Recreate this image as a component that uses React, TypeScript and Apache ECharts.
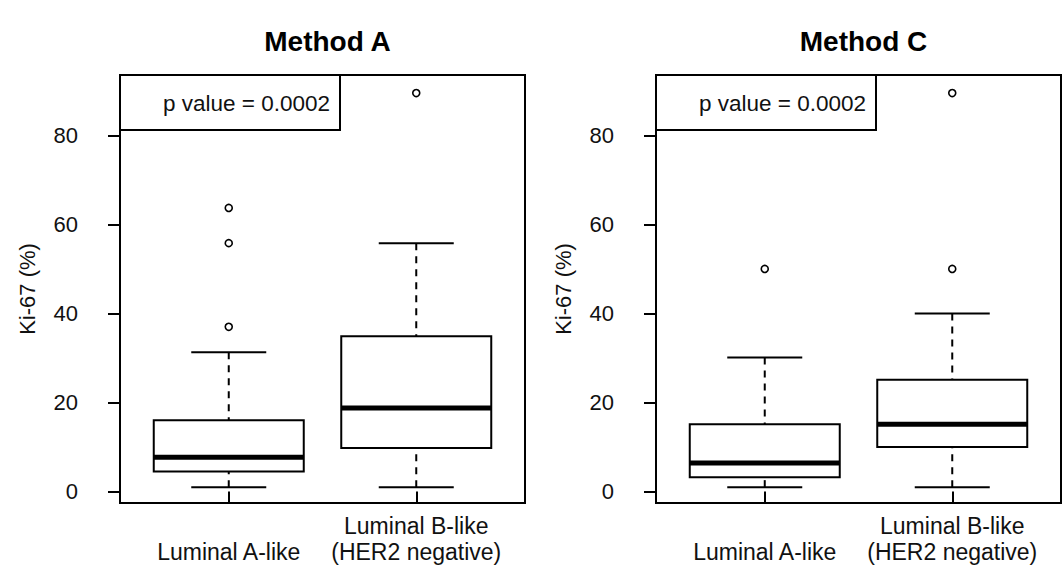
import React, { useEffect, useRef } from "react";
import * as echarts from "echarts";

const categories = ["Luminal A-like", "Luminal B-like\n(HER2 negative)"];
const panelTitles = ["Method A", "Method C"];
const yTicks = [0, 20, 40, 60, 80];
const xTicks = [1, 2];
const pValueTexts = ["p value = 0.0002", "p value = 0.0002"];
const yAxisName = "Ki-67 (%)";

// each box: [position, lower whisker, Q1, median, Q3, upper whisker]
const methodABoxes = [
  [1, 1, 4.5, 7.7, 16, 31.3],
  [2, 1, 9.8, 18.8, 34.9, 55.8],
];
const methodAOutliers = [
  [1, 37],
  [1, 55.8],
  [1, 63.7],
  [2, 89.5],
];
const methodCBoxes = [
  [1, 1, 3.2, 6.4, 15.1, 30.1],
  [2, 1, 10, 15.1, 25.1, 40],
];
const methodCOutliers = [
  [1, 50],
  [2, 50],
  [2, 89.5],
];

const boxesByPanel = [methodABoxes, methodCBoxes];
const outliersByPanel = [methodAOutliers, methodCOutliers];

const FONT = "'Liberation Sans', Arial, sans-serif";
const GRID_LEFTS = [120, 656];
const GRID_TOP = 75;
const GRID_W = 405;
const GRID_H = 428;

export default function App() {
  const ref = useRef<HTMLDivElement>(null);

  useEffect(() => {
    if (!ref.current) return;
    const chart = echarts.init(ref.current, undefined, { renderer: "svg" });

    const renderBox = (params: any, api: any) => {
      const x = api.value(0);
      const lo = api.value(1);
      const q1 = api.value(2);
      const med = api.value(3);
      const q3 = api.value(4);
      const hi = api.value(5);
      const [cx, yLo] = api.coord([x, lo]);
      const yQ1 = api.coord([x, q1])[1];
      const yMed = api.coord([x, med])[1];
      const yQ3 = api.coord([x, q3])[1];
      const yHi = api.coord([x, hi])[1];
      const w = api.size([0.8, 0])[0];
      const cw = w / 2;
      const dashed = { stroke: "#000", lineWidth: 2, lineDash: [7, 6], fill: null };
      const solid = { stroke: "#000", lineWidth: 2, fill: null };
      return {
        type: "group",
        children: [
          { type: "line", shape: { x1: cx, y1: yHi, x2: cx, y2: yQ3 }, style: dashed },
          { type: "line", shape: { x1: cx, y1: yLo, x2: cx, y2: yQ1 }, style: dashed },
          { type: "line", shape: { x1: cx - cw / 2, y1: yHi, x2: cx + cw / 2, y2: yHi }, style: solid },
          { type: "line", shape: { x1: cx - cw / 2, y1: yLo, x2: cx + cw / 2, y2: yLo }, style: solid },
          {
            type: "rect",
            shape: { x: cx - w / 2, y: yQ3, width: w, height: yQ1 - yQ3 },
            style: { fill: "#fff", stroke: "#000", lineWidth: 2 },
          },
          {
            type: "line",
            shape: { x1: cx - w / 2, y1: yMed, x2: cx + w / 2, y2: yMed },
            style: { stroke: "#000", lineWidth: 5 },
          },
        ],
      };
    };

    const panels = [0, 1];

    const option: any = {
      animation: false,
      backgroundColor: "#fff",
      title: panels.map((i) => ({
        text: panelTitles[i],
        left: GRID_LEFTS[i] + GRID_W / 2,
        top: 22,
        textAlign: "center",
        textStyle: { fontFamily: FONT, fontSize: 28, fontWeight: "bold", color: "#000" },
      })),
      grid: panels.map((i) => ({
        left: GRID_LEFTS[i],
        top: GRID_TOP,
        width: GRID_W,
        height: GRID_H,
        show: true,
        borderColor: "#000",
        borderWidth: 2,
        backgroundColor: "transparent",
        containLabel: false,
        outerBoundsMode: "none",
      })),
      xAxis: panels.map((i) => ({
        type: "value",
        gridIndex: i,
        min: 0.42,
        max: 2.58,
        splitLine: { show: false },
        axisLine: { show: false },
        axisTick: {
          show: true,
          customValues: xTicks,
          length: 12,
          lineStyle: { color: "#000", width: 2 },
        },
        axisLabel: {
          customValues: xTicks,
          formatter: (v: number) => categories[Math.round(v) - 1] ?? "",
          margin: 62,
          verticalAlign: "bottom",
          fontFamily: FONT,
          fontSize: 23,
          lineHeight: 26,
          color: "#111",
        },
      })),
      yAxis: panels.map((i) => ({
        type: "value",
        gridIndex: i,
        min: -2.56,
        max: 93.56,
        name: yAxisName,
        nameLocation: "middle",
        nameGap: 82,
        nameRotate: 90,
        nameTextStyle: { fontFamily: FONT, fontSize: 22, color: "#111" },
        splitLine: { show: false },
        axisLine: { show: false },
        axisTick: {
          show: true,
          customValues: yTicks,
          length: 12,
          lineStyle: { color: "#000", width: 2 },
        },
        axisLabel: {
          customValues: yTicks,
          margin: 42,
          fontFamily: FONT,
          fontSize: 22,
          color: "#111",
        },
      })),
      series: [
        ...panels.map((i) => ({
          type: "custom",
          xAxisIndex: i,
          yAxisIndex: i,
          renderItem: renderBox,
          encode: { x: 0, y: [1, 2, 3, 4, 5] },
          data: boxesByPanel[i],
          z: 2,
        })),
        ...panels.map((i) => ({
          type: "scatter",
          xAxisIndex: i,
          yAxisIndex: i,
          symbol: "circle",
          symbolSize: 7,
          itemStyle: { color: "#fff", borderColor: "#000", borderWidth: 1.6, opacity: 1 },
          data: outliersByPanel[i],
          z: 3,
        })),
      ],
      graphic: panels.flatMap((i) => [
        {
          type: "rect",
          shape: { x: GRID_LEFTS[i], y: GRID_TOP, width: 220, height: 55 },
          style: { fill: "#fff", stroke: "#000", lineWidth: 2 },
          z: 10,
        },
        {
          type: "text",
          x: GRID_LEFTS[i] + 210,
          y: GRID_TOP + 28,
          style: {
            text: pValueTexts[i],
            align: "right",
            verticalAlign: "middle",
            fontFamily: FONT,
            fontSize: 22.5,
            fill: "#111",
          },
          z: 11,
        },
      ]),
    };

    chart.setOption(option);
    return () => chart.dispose();
  }, []);

  return (
    <div
      ref={ref}
      style={{ position: "absolute", left: 0, top: 0, width: 1064, height: 570, background: "#fff" }}
    />
  );
}
